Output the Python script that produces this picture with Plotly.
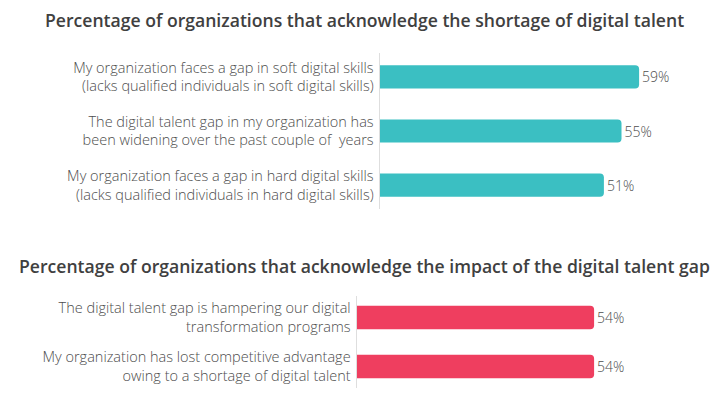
import plotly.graph_objects as go

# ---- data ----
title_top = "Percentage of organizations that acknowledge the shortage of digital talent"
title_bottom = "Percentage of organizations that acknowledge the impact of the digital talent gap"

shortage_labels = [
    "My organization faces a gap in soft digital skills<br>(lacks qualified individuals in soft digital skills)",
    "The digital talent gap in my organization has<br>been widening over the past couple of  years",
    "My organization faces a gap in hard digital skills<br>(lacks qualified individuals in hard digital skills)",
]
shortage_values = [59, 55, 51]

impact_labels = [
    "The digital talent gap is hampering our digital<br>transformation programs",
    "My organization has lost competitive advantage<br>owing to a shortage of digital talent",
]
impact_values = [54, 54]

# ---- style ----
W, H = 728, 393
FONT = "Open Sans"
TEAL = "#3bbfc2"
RED = "#ef3e5f"
LABEL_COLOR = "#4d4d4d"
TITLE_COLOR = "#404040"
XMAX = 70
PX_PER_UNIT = 4.4


def px_dom(left_px, right_px):
    return [left_px / W, right_px / W]


def py_dom(top_px, bottom_px):
    return [1 - bottom_px / H, 1 - top_px / H]


fig = go.Figure()

fig.add_trace(go.Bar(
    x=shortage_values, y=shortage_labels, orientation="h",
    marker=dict(color=TEAL, cornerradius=4, line=dict(width=0)),
    width=0.43,
    texttemplate="%{x}%", textposition="outside", cliponaxis=False,
    textfont=dict(family=FONT, size=14, color=LABEL_COLOR, weight=300),
    xaxis="x", yaxis="y", hoverinfo="skip",
))

fig.add_trace(go.Bar(
    x=impact_values, y=impact_labels, orientation="h",
    marker=dict(color=RED, cornerradius=4, line=dict(width=0)),
    width=0.48,
    texttemplate="%{x}%", textposition="outside", cliponaxis=False,
    textfont=dict(family=FONT, size=14, color=LABEL_COLOR, weight=300),
    xaxis="x2", yaxis="y2", hoverinfo="skip",
))

top_left = 379.5
bot_left = 356.5

tick_font = dict(family=FONT, size=14.5, color=LABEL_COLOR, weight=300)

fig.update_layout(
    width=W, height=H,
    margin=dict(l=0, r=0, t=0, b=0),
    paper_bgcolor="white", plot_bgcolor="white",
    showlegend=False,
    font=dict(family=FONT, color=LABEL_COLOR),
    xaxis=dict(domain=px_dom(top_left, top_left + XMAX * PX_PER_UNIT),
               range=[0, XMAX], visible=False, fixedrange=True),
    yaxis=dict(domain=py_dom(53, 209), anchor="x",
               type="category", categoryorder="array", categoryarray=shortage_labels,
               range=[2.444, -0.444],
               showline=True, linecolor="#dedede", linewidth=1,
               showgrid=False, zeroline=False, ticks="",
               ticklabelstandoff=2, automargin=False,
               tickfont=tick_font),
    xaxis2=dict(domain=px_dom(bot_left, bot_left + XMAX * PX_PER_UNIT),
                range=[0, XMAX], visible=False, anchor="y2", fixedrange=True),
    yaxis2=dict(domain=py_dom(296, 388), anchor="x2",
                type="category", categoryorder="array", categoryarray=impact_labels,
                range=[1.44, -0.44],
                showline=True, linecolor="#dedede", linewidth=1,
                showgrid=False, zeroline=False, ticks="",
                ticklabelstandoff=2, automargin=False,
                tickfont=tick_font),
    annotations=[
        dict(text=title_top, xref="paper", yref="paper", x=0.5, y=1 - 20 / H,
             xanchor="center", yanchor="middle", showarrow=False,
             font=dict(family=FONT, size=17.6, color=TITLE_COLOR, weight=600)),
        dict(text=title_bottom, xref="paper", yref="paper", x=0.5, y=1 - 266 / H,
             xanchor="center", yanchor="middle", showarrow=False,
             font=dict(family=FONT, size=17.6, color=TITLE_COLOR, weight=600)),
    ],
)

fig.write_html("out.html", config={"displayModeBar": False},
               post_script="document.body.style.margin='0';")
